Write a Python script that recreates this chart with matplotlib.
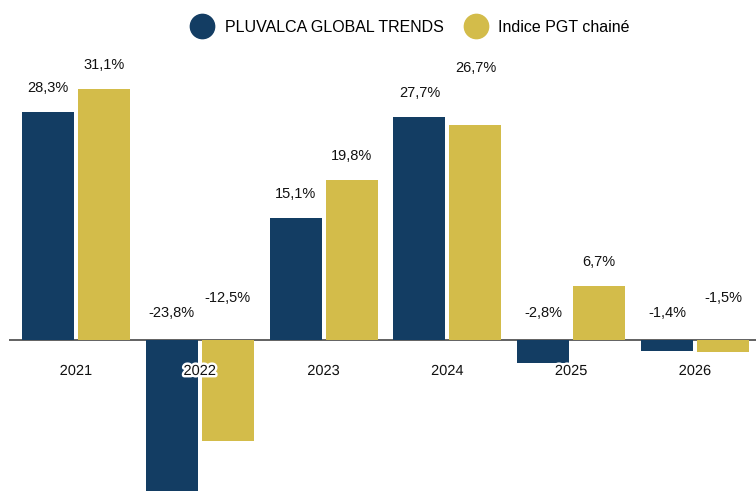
import matplotlib
matplotlib.use("Agg")
import matplotlib.pyplot as plt
from matplotlib.lines import Line2D
import matplotlib.patheffects as pe

years = ["2021", "2022", "2023", "2024", "2025", "2026"]
pgt = [28.3, -23.8, 15.1, 27.7, -2.8, -1.4]
indice = [31.1, -12.5, 19.8, 26.7, 6.7, -1.5]
series_names = ["PLUVALCA GLOBAL TRENDS", "Indice PGT chainé"]

NAVY = "#133D63"
GOLD = "#D3BC4A"

plt.rcParams['font.family'] = ['Liberation Sans', 'DejaVu Sans']

W, H = 756, 491
fig = plt.figure(figsize=(W / 100, H / 100), dpi=100)
ax = fig.add_axes([9 / W, 0, (W - 9) / W, 1])

px_per_unit = 8.06
zero_px = 340
ax.set_ylim(-(H - zero_px) / px_per_unit, zero_px / px_per_unit)
cat_px = 123.8
ax.set_xlim(-(76 - 9) / cat_px, (W - 76) / cat_px)
ax.axis("off")

off = 28 / cat_px
bw = 52 / cat_px
x = list(range(len(years)))
ax.bar([i - off for i in x], pgt, width=bw, color=NAVY, zorder=2)
ax.bar([i + off for i in x], indice, width=bw, color=GOLD, zorder=2)
ax.axhline(0, color="#555555", lw=1.3, zorder=1)

def pts(p):
    return p * 72 / 100

fs = 10.5
for i in x:
    a, b = pgt[i], indice[i]
    # navy label
    ya = 24 if a >= 0 else 27
    base_a = max(a, 0)
    ax.annotate(f"{a:.1f}%".replace(".", ","), xy=(i - off, base_a),
                xytext=(0, pts(ya)), textcoords="offset points",
                ha="center", va="center", fontsize=fs, color="#111111")
    # gold label
    if b >= 0:
        yb_px = zero_px - b * px_per_unit - 24
    else:
        yb_px = zero_px - 42
    ya_px = zero_px - base_a * px_per_unit - ya
    if b >= 0 and abs(yb_px - ya_px) < 20:
        yb_px = ya_px - 25
    yb_val = (zero_px - yb_px) / px_per_unit
    ax.annotate(f"{b:.1f}%".replace(".", ","), xy=(i + off, yb_val),
                ha="center", va="center", fontsize=fs, color="#111111")
    # category label
    ax.annotate(years[i], xy=(i, 0), xytext=(0, -pts(31)),
                textcoords="offset points", ha="center", va="center",
                fontsize=10.5, color="#111111", zorder=5,
                path_effects=[pe.withStroke(linewidth=3.5, foreground="white")])

handles = [Line2D([], [], marker="o", ls="none", markersize=17.5,
                  markerfacecolor=c, markeredgecolor=c) for c in (NAVY, GOLD)]
fig.legend(handles, series_names, loc="center",
           bbox_to_anchor=(412 / W, 1 - 27 / H), ncol=2, frameon=False,
           fontsize=11.5, handlelength=1.0, handletextpad=0.9,
           columnspacing=1.5, borderaxespad=0)

fig.savefig("out.png", dpi=100)
